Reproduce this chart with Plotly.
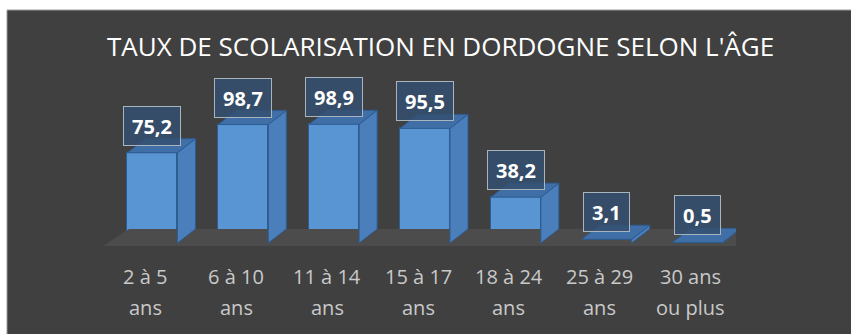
import plotly.graph_objects as go

# School enrolment rate by age group, Dordogne
categories = ["2 à 5 ans", "6 à 10 ans", "11 à 14 ans", "15 à 17 ans",
              "18 à 24 ans", "25 à 29 ans", "30 ans ou plus"]
tick_labels = ["2 à 5<br>ans", "6 à 10<br>ans", "11 à 14<br>ans", "15 à 17<br>ans",
               "18 à 24<br>ans", "25 à 29<br>ans", "30 ans<br>ou plus"]
rates = [75.2, 98.7, 98.9, 95.5, 38.2, 3.1, 0.5]
value_labels = ["75,2", "98,7", "98,9", "95,5", "38,2", "3,1", "0,5"]

title_text = "TAUX DE SCOLARISATION EN DORDOGNE SELON L'ÂGE"

# ---- page geometry (pixels) ----
W, H = 851, 334
PL, PR = 100, 736          # plot area left / right
PT, PB = 60, 260           # plot area top / bottom
ZERO_PX = 243              # pixel row of value 0
PX_PER_UNIT = 1.2          # vertical pixels per percentage point

n = len(categories)
x_unit = (PR - PL) / n
y_lo = -(PB - ZERO_PX) / PX_PER_UNIT
y_hi = (ZERO_PX - PT) / PX_PER_UNIT

def px_x(px):
    return px / x_unit

def px_y(px):
    return px / PX_PER_UNIT

# 3D look: depth offset of the bars and floor
DEPTH_X = px_x(18)
DEPTH_Y = px_y(14)
FRONT_SHIFT = px_x(7)
BAR_W = px_x(50)

BG = "#404040"
FRONT = "#5a95d3"
SIDE = "#4a7fbb"
TOP = "#3f6fa6"
EDGE = "#2d5d93"

fig = go.Figure()

# floor
fx0, fx1 = -0.5 + px_x(3), n - 0.5
fy0 = -px_y(3)
fdx, fdy = px_x(26), px_y(17)
fig.add_trace(go.Scatter(
    x=[fx0, fx1, fx1 + fdx, fx0 + fdx, fx0],
    y=[fy0, fy0, fy0 + fdy, fy0 + fdy, fy0],
    fill="toself", fillcolor="#4c4c4c", mode="lines",
    line=dict(width=0), hoverinfo="skip", showlegend=False))

xs = [i + FRONT_SHIFT for i in range(n)]

# side and top faces of each bar
for xc, v in zip(xs, rates):
    xl, xr = xc - BAR_W / 2, xc + BAR_W / 2
    fig.add_trace(go.Scatter(
        x=[xr, xr + DEPTH_X, xr + DEPTH_X, xr, xr],
        y=[0, DEPTH_Y, v + DEPTH_Y, v, 0],
        fill="toself", fillcolor=SIDE, mode="lines",
        line=dict(color=EDGE, width=1), hoverinfo="skip", showlegend=False))
    fig.add_trace(go.Scatter(
        x=[xl, xr, xr + DEPTH_X, xl + DEPTH_X, xl],
        y=[v, v, v + DEPTH_Y, v + DEPTH_Y, v],
        fill="toself", fillcolor=TOP, mode="lines",
        line=dict(color=EDGE, width=1), hoverinfo="skip", showlegend=False))

# front faces
fig.add_trace(go.Bar(
    x=xs, y=rates, width=BAR_W,
    marker=dict(color=FRONT, line=dict(color=EDGE, width=1)),
    hovertext=categories, showlegend=False))

annotations = []
# value boxes above the bars
for xc, v, lab in zip(xs, rates, value_labels):
    annotations.append(dict(
        x=xc, y=v, xref="x", yref="y", text=lab, showarrow=False,
        yanchor="bottom", yshift=7,
        font=dict(family="Open Sans", size=20, color="white", weight="bold"),
        bgcolor="rgba(52,80,112,0.85)", bordercolor="#aab4be", borderwidth=1,
        borderpad=8, height=22))

# two-line category labels
for i, lab in enumerate(tick_labels):
    for k, line in enumerate(lab.split("<br>")):
        row_px = 276 + 31 * k
        annotations.append(dict(
            x=i, y=(PB - row_px) / (PB - PT), xref="x", yref="paper",
            text=line, showarrow=False, yanchor="middle",
            font=dict(family="Open Sans", size=20, color="#c9c9c9")))

# title
annotations.append(dict(
    x=(440 - PL) / (PR - PL), y=(PB - 46) / (PB - PT), xref="paper", yref="paper",
    text=title_text, showarrow=False, yanchor="middle", xanchor="center",
    font=dict(family="Open Sans", size=26, color="white")))

# dark panel with thin light frame on a white page
shapes = [dict(
    type="rect", xref="paper", yref="paper", layer="below",
    x0=(7 - PL) / (PR - PL), x1=(W + 5 - PL) / (PR - PL),
    y0=(PB - H - 5) / (PB - PT), y1=(PB - 10) / (PB - PT),
    fillcolor=BG, line=dict(color="#9a9a9a", width=1))]

fig.update_layout(
    width=W, height=H,
    margin=dict(l=PL, r=W - PR, t=PT, b=H - PB),
    paper_bgcolor="white", plot_bgcolor="rgba(0,0,0,0)",
    xaxis=dict(range=[-0.5, n - 0.5], visible=False, fixedrange=True),
    yaxis=dict(range=[y_lo, y_hi], visible=False, fixedrange=True),
    shapes=shapes, annotations=annotations,
    showlegend=False, bargap=0)

fig.write_html("out.html")
